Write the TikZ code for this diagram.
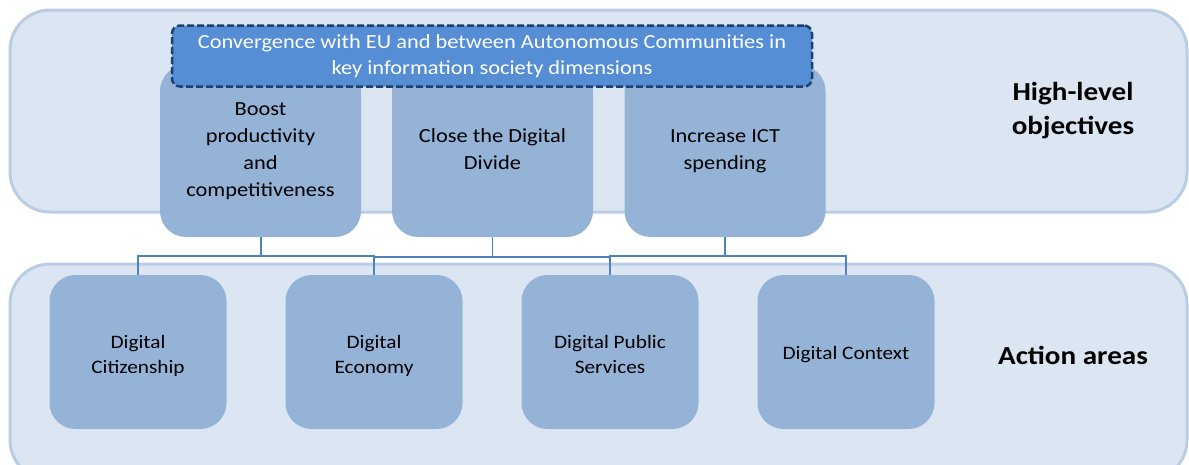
\documentclass[tikz,border=0pt]{standalone}
\usepackage{fontspec}
\setmainfont{Carlito}[FakeStretch=1.12]
\definecolor{outerfill}{HTML}{DCE6F2}
\definecolor{outerline}{HTML}{B9CDE5}
\definecolor{innerfill}{HTML}{95B3D7}
\definecolor{convfill}{HTML}{558ED5}
\definecolor{convline}{HTML}{1F3F6E}
\definecolor{conn}{HTML}{4F81BD}
\newcommand{\lines}[2]{\raisebox{#1}[\height][\depth]{\begin{tabular}{@{}c@{}}#2\end{tabular}}}
\begin{document}
\begin{tikzpicture}[x=1pt,y=-1pt,
  band/.style={draw=outerline, fill=outerfill, line width=3pt, rounded corners=40pt},
  objbox/.style={fill=innerfill, rounded corners=26pt, minimum width=201pt, minimum height=172pt, align=center, font=\fontsize{20}{27}\selectfont, inner sep=0pt},
  actbox/.style={fill=innerfill, rounded corners=26pt, minimum width=177pt, minimum height=154pt, align=center, font=\fontsize{19}{25}\selectfont, inner sep=0pt},
  convbox/.style={fill=convfill, draw=convline, line width=2.5pt, dash pattern=on 7pt off 3pt, rounded corners=8pt, minimum width=640pt, minimum height=61pt, align=center, text=white, font=\fontsize{20}{26}\selectfont, inner sep=0pt},
  bandlabel/.style={align=center, font=\bfseries\fontsize{26}{34}\selectfont},
  link/.style={draw=conn, line width=2pt}
]
\useasboundingbox (0,0) rectangle (1189,464);
\begin{scope}
\clip (0,0) rectangle (1189,464);
\draw[band] (10,10) rectangle (1187,212);
\draw[band] (10,264) rectangle (1187,480);
\end{scope}

\node[bandlabel] (hlo) at (1073,111) {High-level\\objectives};
\node[bandlabel] (aa) at (1073,355) {Action areas};

\node[objbox] (boost) at (260.5,151) {Boost\\productivity\\and\\competitiveness};
\node[objbox] (close) at (492.5,151) {\lines{0pt}{Close the Digital\\Divide}};
\node[objbox] (incr) at (725,151) {\lines{0pt}{Increase ICT\\spending}};

\node[actbox] (cit) at (138,352) {\lines{-4pt}{Digital\\Citizenship}};
\node[actbox] (eco) at (374,352) {\lines{-4pt}{Digital\\Economy}};
\node[actbox] (pub) at (610,352) {\lines{-4pt}{Digital Public\\Services}};
\node[actbox] (ctx) at (846,352) {\lines{-2pt}{Digital Context}};

\node[convbox] (conv) at (492,56) {Convergence with EU and between Autonomous Communities in\\key information society dimensions};

\draw[link] (boost.south) -- ++(0,19) -| (cit.north);
\draw[link] (boost.south) -- ++(0,19) -| (eco.north);
\draw[link, line width=1.5pt] (close.south) -- ++(0,20) -| (eco.north);
\draw[link, line width=1.5pt] (close.south) -- ++(0,20) -| (pub.north);
\draw[link] (incr.south) -- ++(0,19) -| (pub.north);
\draw[link] (incr.south) -- ++(0,19) -| (ctx.north);
\end{tikzpicture}
\end{document}
